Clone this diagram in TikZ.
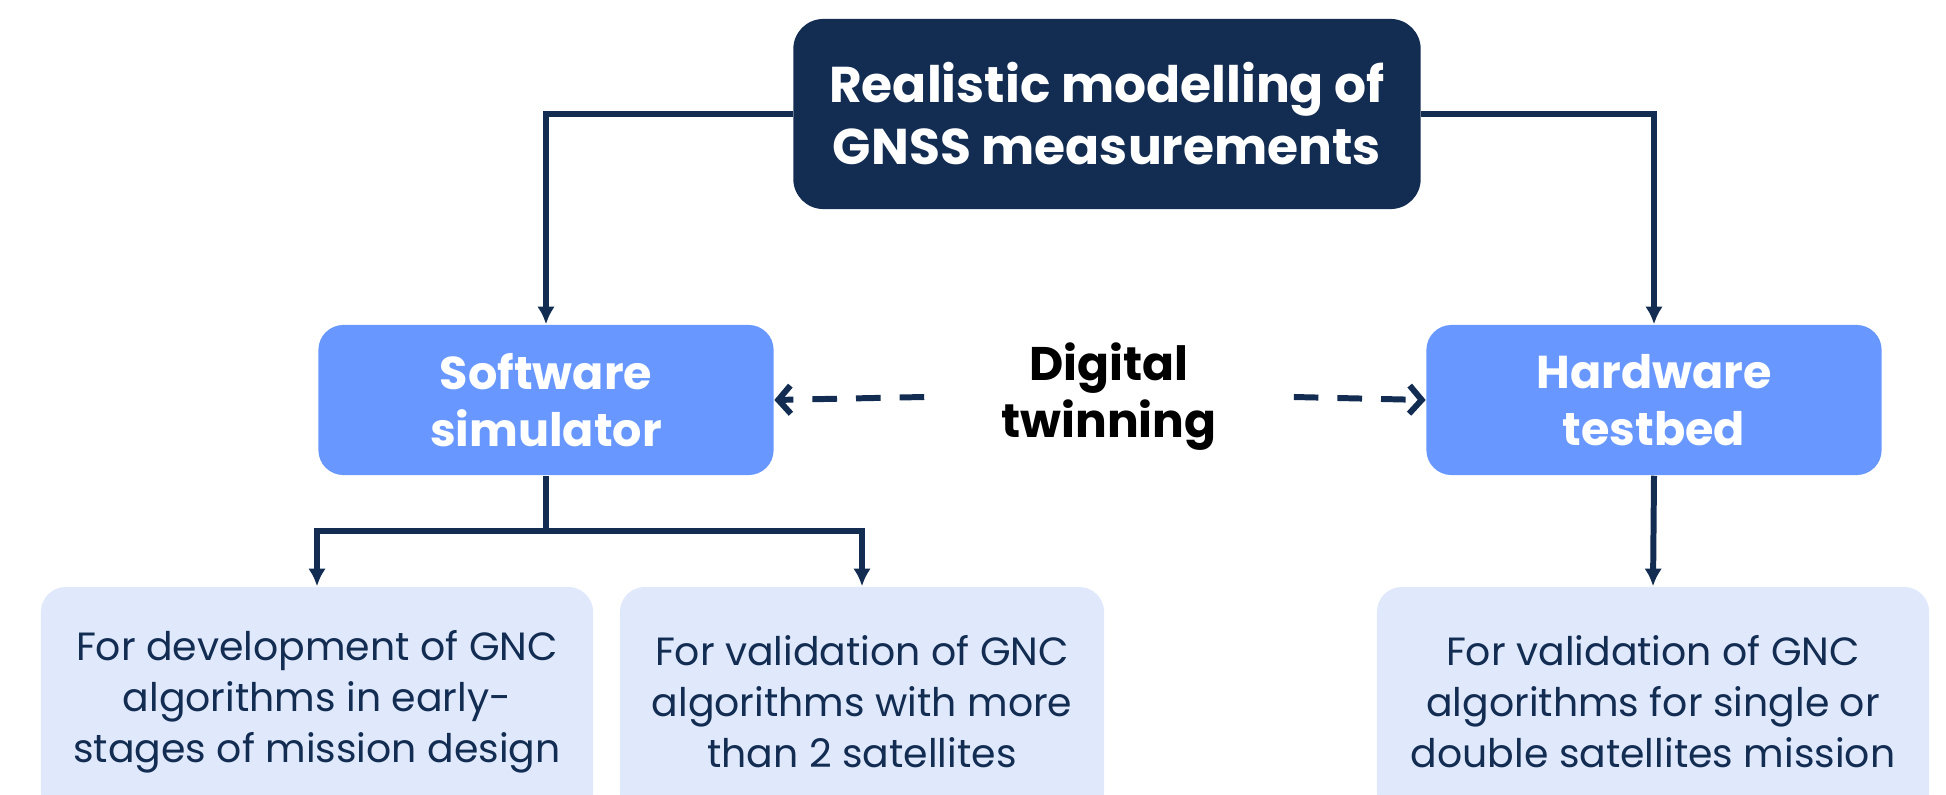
\documentclass[tikz,border=0pt]{standalone}
\usepackage{fontspec}
\setmainfont{Poppins}
\usetikzlibrary{positioning,arrows.meta}

\definecolor{navy}{HTML}{122C52}
\definecolor{simblue}{HTML}{6898FF}
\definecolor{paleblue}{HTML}{E0E9FC}

\begin{document}
\begin{tikzpicture}[
	%	style def
	x=0.01cm, y=-0.01cm,
	link/.style={draw=navy, line width=1.7pt, -{Latex[length=5pt,width=5pt]}},
	twinlink/.style={draw=navy, line width=1.7pt, dash pattern=on 7pt off 5.4pt, -{Straight Barb[length=3.5pt,width=8pt]}},
	headbox/.style={rectangle, rounded corners=0.3cm, fill=navy, text=white, align=center,
		font=\fontsize{14.3}{17.6}\selectfont\bfseries, minimum width=6.27cm, minimum height=1.9cm},
	toolbox/.style={rectangle, rounded corners=0.25cm, fill=simblue, text=white, align=center,
		font=\fontsize{13.1}{16.2}\selectfont\bfseries, minimum width=4.55cm, minimum height=1.5cm},
	usebox/.style={rectangle, rounded corners=0.25cm, fill=paleblue, text=navy, align=center,
		font=\fontsize{11.2}{14.5}\selectfont, minimum height=2.3cm},
	twinlabel/.style={align=center, font=\fontsize{13.4}{16.2}\selectfont\bfseries, minimum width=3.68cm}
	]

	\useasboundingbox (0,0) rectangle (1946,794);
	\clip (0,0) rectangle (1946,794);

	% top level
	\node[headbox] (gnss) at (1107,114) {Realistic modelling of\\GNSS measurements};

	% simulator and testbed
	\node[toolbox] (soft) at (546,400) {Software\\simulator};
	\node[toolbox] (hard) at (1654,400) {Hardware\\testbed};
	\node[twinlabel] (twin) at (1109,397) {Digital\\twinning};

	% use cases (run off the bottom edge)
	\node[usebox, minimum width=5.52cm] (dev) at (317,702) {For development of GNC\\algorithms in early-\\stages of mission design};
	\node[usebox, minimum width=4.84cm] (multi) at (862,702) {For validation of GNC\\algorithms with more\\than 2 satellites};
	\node[usebox, minimum width=5.52cm] (single) at (1653,702) {For validation of GNC\\algorithms for single or\\double satellites mission};

	% connections
	\draw[link] (gnss.west) -| (soft.north);
	\draw[link] (gnss.east) -| (hard.north);
	\coordinate (fork) at (546,531);
	\draw[navy, line width=1.7pt] (soft.south) -- (fork);
	\draw[link] (fork) -| (dev.north);
	\draw[link] (fork) -| (multi.north);
	\draw[link] (hard.south) -- (single.north);

	% digital twin (dashed)
	\draw[twinlink] (twin.west) -- (soft.east);
	\draw[twinlink] (twin.east) -- (hard.west);
\end{tikzpicture}
\end{document}
